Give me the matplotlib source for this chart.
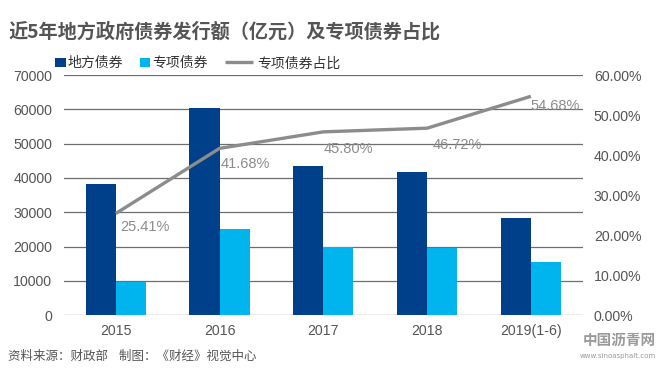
import numpy as np
import matplotlib
matplotlib.use("Agg")
import matplotlib.pyplot as plt

plt.rcParams['font.family'] = ['Noto Sans CJK SC', 'DejaVu Sans']

# ===== 数据 =====
years = ["2015", "2016", "2017", "2018", "2019(1-6)"]
local_bonds = [38351, 60458, 43581, 41652, 28372]      # 地方债券（亿元）
special_bonds = [9744, 25199, 19960, 19460, 15514]     # 专项债券（亿元）
special_ratio = [25.41, 41.68, 45.80, 46.72, 54.68]    # 专项债券占比（%）
left_ticks = [0, 10000, 20000, 30000, 40000, 50000, 60000, 70000]
right_ticks = [0, 10, 20, 30, 40, 50, 60]

DARK = "#00408A"
LIGHT = "#00B4EE"
GRAY = "#8C8C8C"
TXT = "#555555"
NUM_FONT = ["Liberation Sans", "DejaVu Sans"]

fig = plt.figure(figsize=(6.66, 3.77), dpi=100)
ax = fig.add_axes([0.096, 0.164, 0.779, 0.637])
ax2 = ax.twinx()

x = np.arange(len(years))
w = 0.29

# 网格线
for t in left_ticks:
    ax.axhline(t, color="#6E6E6E", lw=0.9, zorder=0)

ax.bar(x - w / 2, local_bonds, w, color=DARK, label="地方债券", zorder=2)
ax.bar(x + w / 2, special_bonds, w, color=LIGHT, label="专项债券", zorder=2)

ax2.plot(x, special_ratio, color=GRAY, lw=2.4, label="专项债券占比", zorder=3,
         solid_capstyle="butt")

# 数据标签
offsets = [(3, -5), (1, -6), (0, -7), (4, -7), (0, -2)]
for xi, v, off in zip(x, special_ratio, offsets):
    ax2.annotate(f"{v:.2f}%", (xi, v), xytext=off, textcoords="offset points",
                 ha="left", va="top", fontsize=10.5, color=GRAY, family=NUM_FONT)

ax.set_xlim(-0.5, len(years) - 0.5)
ax.set_ylim(0, 70000)
ax2.set_ylim(0, 60)
ax.set_yticks(left_ticks)
ax2.set_yticks(right_ticks)
ax2.set_yticklabels([f"{t:.2f}%" for t in right_ticks])
ax.set_xticks(x)
ax.set_xticklabels(years)

for a in (ax, ax2):
    for s in a.spines.values():
        s.set_visible(False)
    a.tick_params(length=0, labelsize=10.2, labelcolor=TXT)
    for lab in a.get_xticklabels() + a.get_yticklabels():
        lab.set_family(NUM_FONT)
ax.tick_params(axis="x", pad=6)
ax.tick_params(axis="y", pad=8.5)
ax2.tick_params(axis="y", pad=8)

# 图例（柱形与折线分开，便于控制图例标记长度）
h1, l1 = ax.get_legend_handles_labels()
h2, l2 = ax2.get_legend_handles_labels()
leg1 = fig.legend(h1, l1, loc="center left", bbox_to_anchor=(0.083, 0.832),
                  ncol=2, frameon=False, fontsize=10, handlelength=0.75,
                  handleheight=0.55, handletextpad=0.15, columnspacing=1.2,
                  labelcolor="#333333", borderaxespad=0, borderpad=0)
leg2 = fig.legend(h2, l2, loc="center left", bbox_to_anchor=(0.338, 0.832),
                  frameon=False, fontsize=10, handlelength=2.0, handletextpad=0.3,
                  labelcolor="#333333", borderaxespad=0, borderpad=0)

# 标题与脚注
fig.text(0.012, 0.915, "近5年地方政府债券发行额（亿元）及专项债券占比", fontsize=13.8,
         fontweight="bold", color="#555555", va="center", ha="left")
fig.text(0.012, 0.055, "资料来源：财政部    制图：《财经》视觉中心", fontsize=9,
         color="#555555", va="center", ha="left")
fig.text(0.985, 0.10, "中国沥青网", fontsize=10.5, fontweight="bold", color="#9A9A9A",
         ha="right", va="center")
fig.text(0.985, 0.055, "www.sinoasphalt.com", fontsize=5, color="#9A9A9A",
         ha="right", va="center", family=["DejaVu Sans"])

fig.savefig("out.png", dpi=100)
